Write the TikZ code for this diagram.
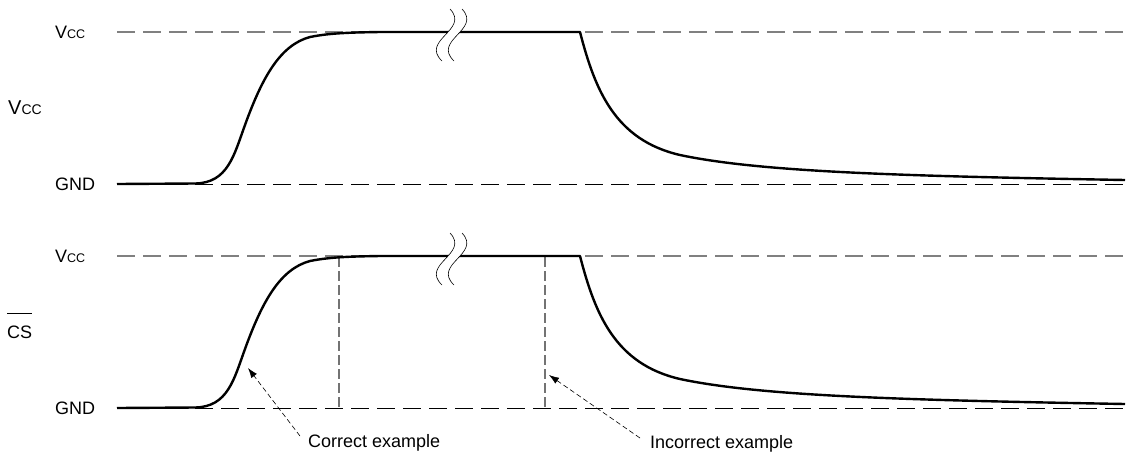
\documentclass[tikz,border=0pt]{standalone}
\usepackage{fontspec}
\setmainfont{Liberation Sans}
\usetikzlibrary{arrows.meta}
\tikzset{
  lbl/.style={font=\fontsize{18}{20}\selectfont, inner sep=0pt, anchor=west},
  vccline/.style={draw=black!50, line width=1.2pt, dash pattern=on 18pt off 8pt},
  gndline/.style={draw=black, line width=1pt, dash pattern=on 18pt off 8pt},
  wave/.style={draw=black, line width=2.4pt, line join=round},
  marker/.style={draw=black!55, line width=1.1pt, dash pattern=on 10pt off 4pt},
  callout/.style={draw=black, line width=0.6pt, dash pattern=on 5pt off 3pt, -{Latex[length=10pt,width=7pt]}},
  brk/.style={draw=black, line width=0.6pt},
}
\newcommand{\vccsym}{V{\fontsize{12.5}{13}\selectfont CC}}
\newcommand{\vccbig}{V{\fontsize{14}{15}\selectfont CC}}
\begin{document}
\begin{tikzpicture}[x=1pt,y=-1pt]
\useasboundingbox (0,0) rectangle (1130,456);
% reference lines
\foreach \o in {0,224}{
  \draw[vccline] (117,32+\o) -- (1130,32+\o);
  \draw[gndline] (117,184+\o) -- (1130,184+\o);
}
% vertical markers
\draw[marker] (339,257) -- (339,408);
\draw[marker] (545,257) -- (545,408);
% waveforms
\foreach \o in {0,224}{
  \draw[wave] (117,184+\o) -- (195,183.5+\o)
    .. controls (228,183+\o) and (234,155+\o) .. (245,125+\o)
    .. controls (262,78+\o) and (280,45+\o) .. (310,37+\o)
    .. controls (330,33+\o) and (350,32.5+\o) .. (380,32+\o)
    -- (580,32+\o)
    .. controls (595,90+\o) and (615,140+\o) .. (680,155+\o)
    .. controls (760,172+\o) and (900,176+\o) .. (1125,180+\o);
  % break symbol
  \fill[white] (450,9+\o) .. controls (470,30+\o) and (420,40+\o) .. (442,61+\o)
    -- (454,61+\o) .. controls (432,40+\o) and (482,30+\o) .. (462,9+\o) -- cycle;
  \draw[brk] (450,9+\o) .. controls (470,30+\o) and (420,40+\o) .. (442,61+\o);
  \draw[brk] (462,9+\o) .. controls (482,30+\o) and (432,40+\o) .. (454,61+\o);
}
% labels
\node[lbl] (vcc1) at (55,32) {\vccsym};
\node[lbl] (gnd1) at (55,184) {GND};
\node[lbl, font=\fontsize{20}{22}\selectfont] (sig1) at (8,108) {\vccbig};
\node[lbl] (vcc2) at (55,256) {\vccsym};
\node[lbl] (gnd2) at (55,408) {GND};
\node[lbl] (sig2) at (7,332) {CS};
\draw[line width=1pt] ([yshift=12pt]sig2.north west) -- ([yshift=12pt]sig2.north east);
\node[lbl] (ok) at (308,443) {Correct example};
\node[lbl] (ng) at (650,444) {Incorrect example};
% callouts
\coordinate (oktail) at (300,436);
\coordinate (oktip) at (248,368);
\coordinate (ngtail) at (640,438);
\coordinate (ngtip) at (549,375);
\draw[callout] (oktail) -- (oktip);
\draw[callout] (ngtail) -- (ngtip);
\end{tikzpicture}
\end{document}
